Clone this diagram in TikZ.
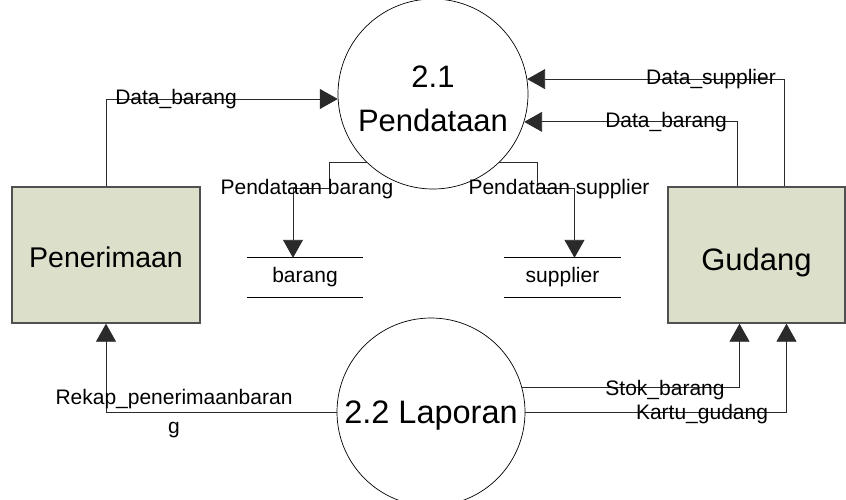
\documentclass[tikz,border=0pt]{standalone}
\usepackage{fontspec}
\setmainfont{Liberation Sans}
\usetikzlibrary{positioning,arrows.meta}
\definecolor{boxfill}{HTML}{DCDFCA}
\definecolor{boxline}{HTML}{505050}
\definecolor{flowline}{HTML}{2A2A2A}

\begin{document}
\begin{tikzpicture}[x=1pt, y=-1pt,
    proc/.style={draw, circle, line width=0.7pt, minimum size=190pt, inner sep=0pt,
                 align=center, font=\fontsize{31}{44}\selectfont},
    ent/.style={draw=boxline, fill=boxfill, line width=1.4pt, inner sep=0pt,
                minimum height=136pt, text depth=0pt},
    store/.style={minimum width=116pt, minimum height=39pt, inner sep=0pt,
                  font=\fontsize{21}{25}\selectfont},
    flow/.style={draw=flowline, line width=0.9pt, -{Triangle[length=18pt,width=20pt]}},
    lbl/.style={font=\fontsize{21}{29}\selectfont, inner sep=0pt, align=center}]
  \useasboundingbox (0,0) rectangle (846,499);

  % processes
  \node[proc] (p21) at (433,94) {\rule{0pt}{32pt}2.1\\Pendataan};
  \node[proc, minimum size=188pt, font=\fontsize{32.5}{40}\selectfont,
        text height=22pt, text depth=0pt] (p22) at (431,412) {2.2 Laporan};

  % external entities
  \node[ent, minimum width=188pt, font=\fontsize{28.5}{34}\selectfont,
        text height=24pt] (pen) at (106,255) {Penerimaan};
  \node[ent, minimum width=177pt, font=\fontsize{31}{36}\selectfont,
        text height=30pt] (gud) at (756.5,255) {Gudang};

  % data stores
  \node[store] (bar) at (305,277.5) {barang};
  \node[store] (sup) at (562.5,277.5) {supplier};
  \foreach \s in {bar,sup}
    \draw[line width=0.9pt] (\s.north west) -- (\s.north east)
                            (\s.south west) -- (\s.south east);

  % flows into 2.1
  \draw[flow] (pen.north) |- (p21.183);
  \node[lbl] (fb1) at (176,99) {Data\_barang};
  \draw[flow] ([xshift=28pt]gud.north) |- (p21.9);
  \node[lbl] (fs) at (711,79) {Data\_supplier};
  \draw[flow] ([xshift=-19pt]gud.north) |- (p21.-17);
  \node[lbl] (fb2) at (666,122) {Data\_barang};

  % flows into the stores
  \draw[flow] (p21.226) -| ++(-37,26) -| ([xshift=-12pt]bar.north);
  \node[lbl] (fpb) at (307,189) {Pendataan barang};
  \draw[flow] (p21.-46) -| ++(38,26) -| ([xshift=12pt]sup.north);
  \node[lbl] (fps) at (559,189) {Pendataan supplier};

  % reports from 2.2
  \draw[flow] (p22.west) -| (pen.south);
  \node[lbl] (fr) at (174,414) {Rekap\_penerimaanbaran\\g};
  \draw[flow] (p22.15) -| ([xshift=-17pt]gud.south);
  \node[lbl] (fk) at (665,390) {Stok\_barang};
  \draw[flow] (p22.east) -| ([xshift=30pt]gud.south);
  \node[lbl] (fg) at (702,414) {Kartu\_gudang};
\end{tikzpicture}
\end{document}
